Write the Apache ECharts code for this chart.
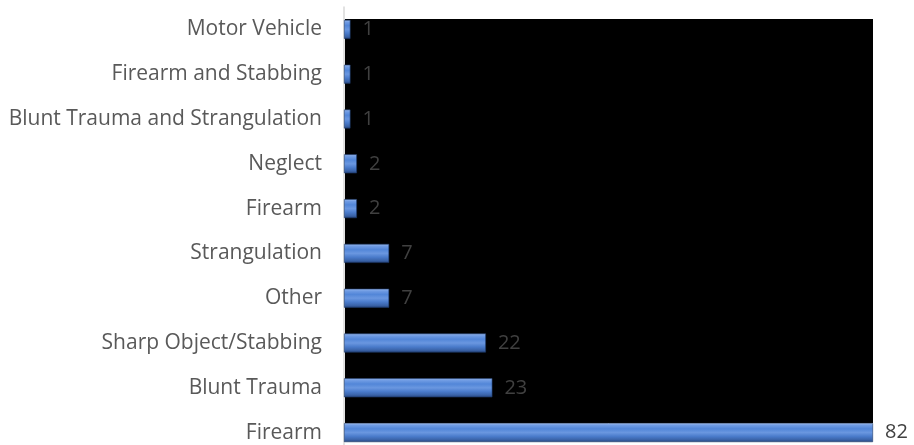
<!DOCTYPE html>
<html>
<head>
<meta charset="utf-8">
<script src="https://cdn.jsdelivr.net/npm/echarts@6/dist/echarts.min.js"></script>
<style>html,body{margin:0;padding:0;background:#fff;}#c{width:914px;height:445px;}</style>
</head>
<body>
<div id="c"></div>
<script>
const categories = ['Motor Vehicle','Firearm and Stabbing','Blunt Trauma and Strangulation','Neglect','Firearm','Strangulation','Other','Sharp Object/Stabbing','Blunt Trauma','Firearm'];
const values = [1,1,1,2,2,7,7,22,23,82];

const chart = echarts.init(document.getElementById('c'), null, {renderer:'canvas'});
const barColor = new echarts.graphic.LinearGradient(0,0,0,1,[
  {offset:0, color:'#9dbcef'},
  {offset:0.12, color:'#6f9be3'},
  {offset:0.3, color:'#5286d8'},
  {offset:0.5, color:'#6a97e0'},
  {offset:0.7, color:'#4a7bcb'},
  {offset:0.88, color:'#3a63a8'},
  {offset:1, color:'#24427a'}
]);
chart.setOption({
  animation:false,
  grid:[
    {left:344, width:529, top:7, height:448, containLabel:false, outerBoundsMode:'none'},
    {left:345, width:528, top:19, height:404, show:true, backgroundColor:'#000', borderWidth:0, outerBoundsMode:'none'}
  ],
  xAxis:[
    {type:'value', min:0, max:82, gridIndex:0, show:false},
    {type:'value', gridIndex:1, show:false}
  ],
  yAxis:[
    {type:'category', data:categories, inverse:true, gridIndex:0,
     axisLine:{show:true, lineStyle:{color:'#d9d9d9', width:1.5}},
     axisTick:{show:false},
     axisLabel:{color:'#595959', fontFamily:'Open Sans', fontSize:21, margin:22}},
    {type:'category', gridIndex:1, show:false, data:['a']}
  ],
  series:[{
    type:'bar', data:values, barWidth:19, xAxisIndex:0, yAxisIndex:0, z:3,
    itemStyle:{color:barColor, borderColor:'#1f3a6a', borderWidth:0.6},
    label:{show:true, position:'right', distance:12, color:'#404040', fontFamily:'Open Sans', fontSize:20}
  }]
});
</script>
</body>
</html>
